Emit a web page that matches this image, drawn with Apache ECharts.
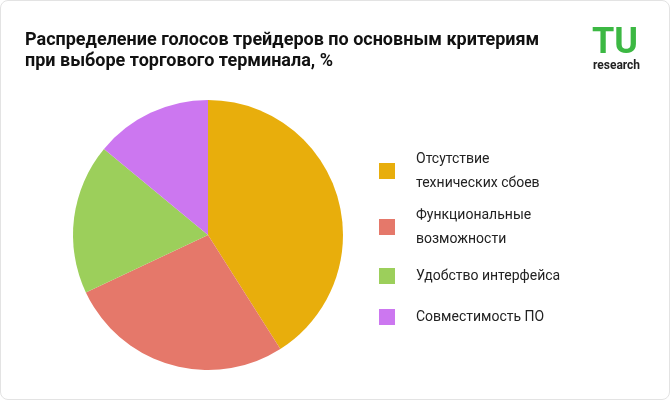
<!DOCTYPE html>
<html><head><meta charset="utf-8">
<script src="https://cdn.jsdelivr.net/npm/echarts@6/dist/echarts.min.js"></script>
<style>html,body{margin:0;padding:0;background:#fff}#c{width:670px;height:400px;box-sizing:border-box;border:1px solid #e3e3e3;border-radius:8px;overflow:hidden}</style>
</head><body><div id="c"></div>
<script>
const categories = ["Отсутствие\nтехнических сбоев", "Функциональные\nвозможности", "Удобство интерфейса", "Совместимость ПО"];
const values = [41, 27, 18, 14];
const colors = ["#E8AE0C", "#E5786A", "#9CCF5B", "#CC77F0"];
const legendTops = [141, 197, 258, 299];
const chart = echarts.init(document.getElementById('c'));
chart.setOption({
  animation: false,
  title: {
    text: "Распределение голосов трейдеров по основным критериям\nпри выборе торгового терминала, %",
    left: 19, top: 24,
    textStyle: {fontFamily: "Roboto", fontSize: 18, fontWeight: "bold", color: "#111", lineHeight: 21}
  },
  graphic: [
    {type: 'text', left: 591, top: 25, style: {text: 'TU', fontFamily: 'Roboto', fontSize: 36, fontWeight: 'bold', fill: '#3CB843'}},
    {type: 'text', left: 592, top: 59, style: {text: 'research', fontFamily: 'Roboto', fontSize: 12, fontWeight: 'bold', fill: '#222'}}
  ],
  legend: categories.map((c, i) => ({
    data: [c], orient: 'vertical', left: 373, top: legendTops[i], itemWidth: 16, itemHeight: 16, icon: 'rect',
    textStyle: {fontFamily: "Roboto", fontSize: 14, color: '#222', lineHeight: 24, padding: [0,0,0,16]}
  })),
  series: [{
    type: 'pie', center: [207, 234], radius: 135, startAngle: 90, clockwise: true,
    label: {show: false}, labelLine: {show: false},
    data: categories.map((n, i) => ({name: n, value: values[i], itemStyle: {color: colors[i]}}))
  }]
});
</script></body></html>
